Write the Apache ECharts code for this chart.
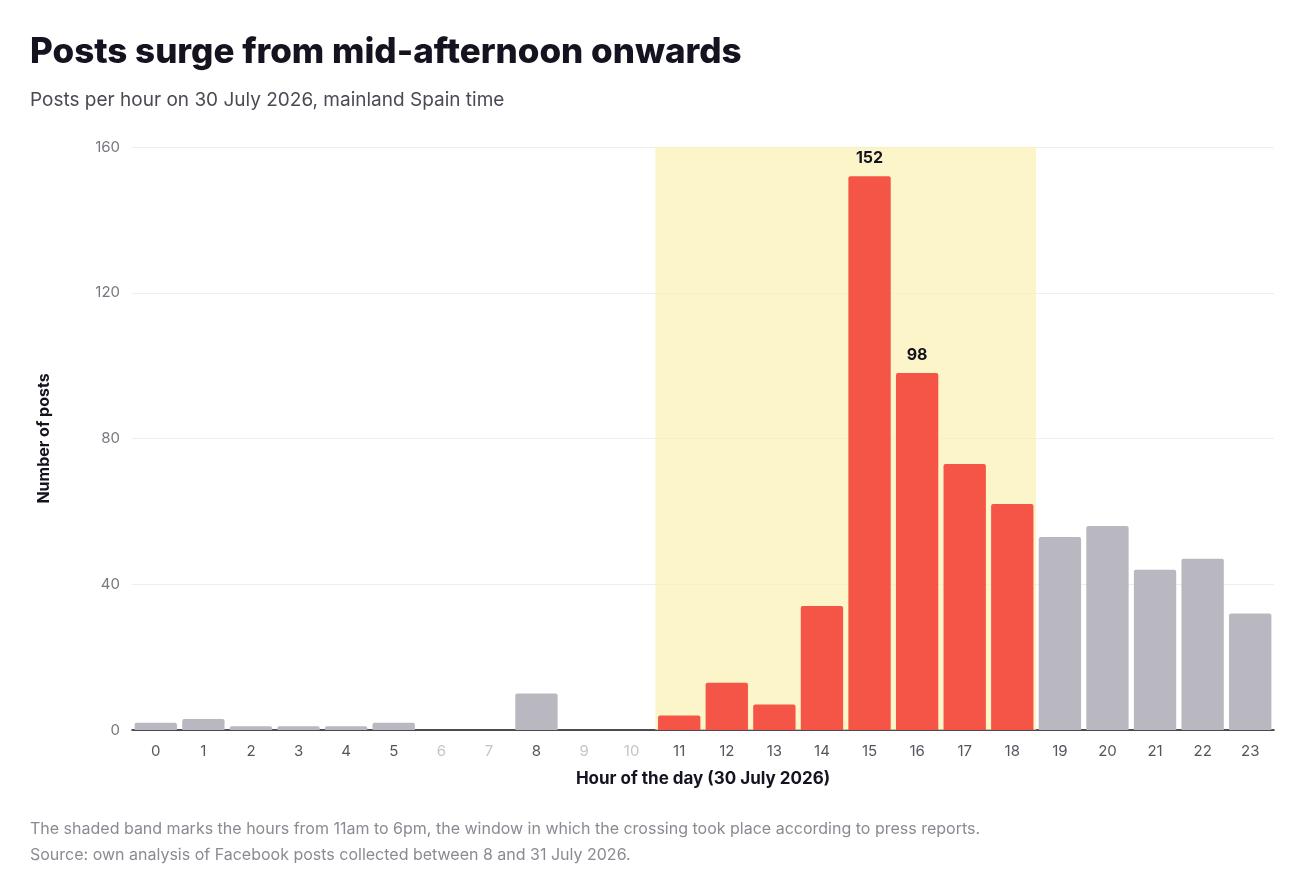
<!DOCTYPE html>
<html>
<head>
<meta charset="utf-8">
<title>Posts surge from mid-afternoon onwards</title>
<script src="https://cdn.jsdelivr.net/npm/echarts@6/dist/echarts.min.js"></script>
<style>
  html, body { margin: 0; padding: 0; background: #fff; }
  #chart { width: 1300px; height: 896px; }
</style>
</head>
<body>
<div id="chart"></div>
<script>
// data
const hours = ['0', '1', '2', '3', '4', '5', '6', '7', '8', '9', '10', '11',
  '12', '13', '14', '15', '16', '17', '18', '19', '20', '21', '22', '23'];
const posts = [2, 3, 1, 1, 1, 2, 0, 0, 10, 0, 0, 4,
  13, 7, 34, 152, 98, 73, 62, 53, 56, 44, 47, 32];
const labelled = ['15', '16'];      // bars with a value label
const bandFrom = 11, bandTo = 18;   // shaded window, hours
const yTicks = [0, 40, 80, 120, 160];

const FONT = 'Inter, "Noto Sans", sans-serif';
const RED = '#F45546';
const GREY = '#B9B8C0';

const chart = echarts.init(document.getElementById('chart'));

// x categories: zero-hour labels are drawn lighter
const xData = hours.map((h, i) => ({
  value: h,
  textStyle: { color: posts[i] === 0 ? '#C4C4CA' : '#55555F' }
}));

const barData = hours.map((h, i) => {
  const inBand = +h >= bandFrom && +h <= bandTo;
  return {
    value: posts[i],
    itemStyle: { color: inBand ? RED : GREY },
    label: { show: labelled.indexOf(h) >= 0 }
  };
});

chart.setOption({
  animation: false,
  textStyle: { fontFamily: FONT },
  title: [{
    text: 'Posts surge from mid-afternoon onwards',
    left: 25, top: 30,
    textStyle: { fontSize: 35, fontWeight: 800, color: '#14131F', fontFamily: FONT }
  }, {
    text: 'Posts per hour on 30 July 2026, mainland Spain time',
    left: 25, top: 86,
    textStyle: { fontSize: 19, fontWeight: 400, color: '#4A4A55', fontFamily: FONT }
  }, {
    text: 'The shaded band marks the hours from 11am to 6pm, the window in which the crossing took place according to press reports.',
    left: 25, top: 816,
    textStyle: { fontSize: 16, fontWeight: 400, color: '#8A8A93', fontFamily: FONT }
  }, {
    text: 'Source: own analysis of Facebook posts collected between 8 and 31 July 2026.',
    left: 25, top: 842,
    textStyle: { fontSize: 16, fontWeight: 400, color: '#8A8A93', fontFamily: FONT }
  }],
  grid: { left: 132, right: 26, top: 147, bottom: 166 },
  xAxis: [{
    type: 'category',
    data: xData,
    name: 'Hour of the day (30 July 2026)',
    nameLocation: 'middle',
    nameGap: 40,
    nameTextStyle: { fontSize: 17, fontWeight: 700, color: '#14131F' },
    axisLine: { lineStyle: { color: '#14131F', width: 1.5 } },
    axisTick: { show: false },
    axisLabel: { fontSize: 15, margin: 14 }
  }, {
    type: 'value',
    min: -0.5, max: 23.5,
    show: false
  }],
  yAxis: {
    type: 'value',
    min: yTicks[0], max: yTicks[yTicks.length - 1], interval: 40,
    name: 'Number of posts',
    nameLocation: 'middle',
    nameGap: 80,
    nameTextStyle: { fontSize: 16, fontWeight: 700, color: '#14131F' },
    axisLine: { show: false },
    axisTick: { show: false },
    axisLabel: { fontSize: 15, color: '#777780', margin: 12 },
    splitLine: { lineStyle: { color: '#EEEEEE', width: 1 } }
  },
  series: [{
    // shaded window 11:00-18:59, across the full category bands
    type: 'line',
    xAxisIndex: 1,
    data: [],
    silent: true,
    markArea: {
      silent: true,
      itemStyle: { color: 'rgba(251, 241, 180, 0.7)' },
      data: [[{ xAxis: bandFrom - 0.5, yAxis: yTicks[0] },
              { xAxis: bandTo + 0.5, yAxis: yTicks[yTicks.length - 1] }]]
    }
  }, {
    type: 'bar',
    data: barData,
    barCategoryGap: '11%',
    itemStyle: { borderRadius: [2, 2, 0, 0] },
    label: {
      position: 'top',
      distance: 10,
      fontSize: 16,
      fontWeight: 700,
      color: '#14131F'
    }
  }]
});
</script>
</body>
</html>
